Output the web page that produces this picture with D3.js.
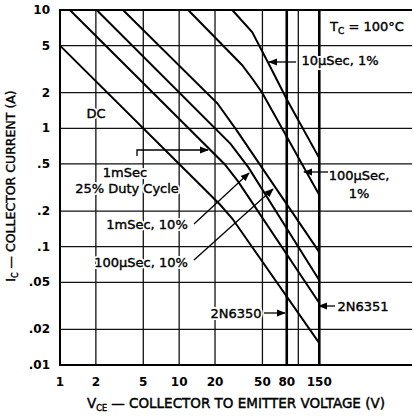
<!DOCTYPE html>
<html lang="en">
  <head>
    <meta charset="utf-8">
    <title>SOA chart</title>
    <script src="https://d3js.org/d3.v7.js"></script>
    <style>
      body { margin: 0; background: white; }
      text { font-family: "DejaVu Sans", sans-serif; fill: black; }
    </style>
  </head>
  <body>
    <script>

  // size
  var w = 414;
  var h = 417;
  var margin = {top: 10, right: 2, bottom: 52, left: 60};

  // tick values
  var vTicks = [1, 2, 5, 10, 20, 50, 80, 150];
  var iTicks = [10, 5, 2, 1, 0.5, 0.2, 0.1, 0.05, 0.02, 0.01];
  var iTickLabels = ["10", "5", "2", "1", ".5", ".2", ".1", ".05", ".02", ".01"];
  var vGrid = [2, 5, 10, 20, 50, 100];
  var vLimits = [80, 150];

  // curves (V, A)
  var dcV = [1, 22, 28, 150];
  var dcI = [5, 0.227, 0.172, 0.0153];
  var ms1d25V = [1.21, 24, 31, 150];
  var ms1d25I = [10, 0.5, 0.36, 0.0334];
  var ms1d10V = [2.03, 27, 38, 150];
  var ms1d10I = [10, 0.74, 0.47, 0.052];
  var us100d10V = [3.38, 21, 30, 150];
  var us100d10I = [10, 1.62, 0.98, 0.09];
  var us100d1V = [11.9, 33.7, 41.9, 49.9, 150];
  var us100d1I = [10, 3.43, 2.56, 1.99, 0.273];
  var us10d1V = [27.9, 41, 56, 80.8, 150];
  var us10d1I = [10, 6.52, 3.56, 1.73, 0.56];

  var curves = [
    d3.zip(dcV, dcI),
    d3.zip(ms1d25V, ms1d25I),
    d3.zip(ms1d10V, ms1d10I),
    d3.zip(us100d10V, us100d10I),
    d3.zip(us100d1V, us100d1I),
    d3.zip(us10d1V, us10d1I)
  ];

  // scales
  var xScale = d3.scaleLog()
    .domain([1, 900])
    .range([margin.left, w - margin.right]);

  var yScale = d3.scaleLog()
    .domain([0.01, 10])
    .range([h - margin.bottom, margin.top]);

  var svg = d3.select("body")
    .append("svg")
    .attr("width", w)
    .attr("height", h);

  // grid
  svg.append("g")
    .selectAll("line")
    .data(iTicks.slice(1, -1))
    .enter()
    .append("line")
    .attr("x1", xScale(1))
    .attr("x2", w - margin.right)
    .attr("y1", d => yScale(d))
    .attr("y2", d => yScale(d))
    .attr("stroke", "#111")
    .attr("stroke-width", 1.3);

  svg.append("g")
    .selectAll("line")
    .data(vGrid)
    .enter()
    .append("line")
    .attr("x1", d => xScale(d))
    .attr("x2", d => xScale(d))
    .attr("y1", yScale(10))
    .attr("y2", yScale(0.01))
    .attr("stroke", "#111")
    .attr("stroke-width", 1.3);

  // 2N6350 / 2N6351 voltage limits
  svg.append("g")
    .selectAll("line")
    .data(vLimits)
    .enter()
    .append("line")
    .attr("x1", d => xScale(d))
    .attr("x2", d => xScale(d))
    .attr("y1", yScale(10))
    .attr("y2", yScale(0.01))
    .attr("stroke", "black")
    .attr("stroke-width", 2.6);

  // frame: left, top, bottom
  svg.append("path")
    .attr("d", `M${w - margin.right},${yScale(10)}H${xScale(1)}V${yScale(0.01)}H${w - margin.right}`)
    .attr("fill", "none")
    .attr("stroke", "black")
    .attr("stroke-width", 2);

  // curves
  var line = d3.line()
    .x(d => xScale(d[0]))
    .y(d => yScale(d[1]));

  svg.append("g")
    .selectAll("path")
    .data(curves)
    .enter()
    .append("path")
    .attr("d", line)
    .attr("fill", "none")
    .attr("stroke", "black")
    .attr("stroke-width", 2);

  // axis labels
  var tickFont = 12;
  svg.append("g")
    .selectAll("text")
    .data(iTicks)
    .enter()
    .append("text")
    .attr("x", 50)
    .attr("y", d => yScale(d) + 4)
    .attr("text-anchor", "end")
    .style("font-size", tickFont + "px")
    .style("font-weight", "bold")
    .text((d, i) => iTickLabels[i]);

  svg.append("g")
    .selectAll("text")
    .data(vTicks)
    .enter()
    .append("text")
    .attr("x", d => xScale(d))
    .attr("y", 386)
    .attr("text-anchor", "middle")
    .style("font-size", tickFont + "px")
    .style("font-weight", "bold")
    .text(d => d);

  var xTitle = svg.append("text")
    .attr("x", 236)
    .attr("y", 408)
    .attr("text-anchor", "middle")
    .style("font-size", "13.5px")
    .style("stroke", "black")
    .style("stroke-width", 0.45);
  xTitle.append("tspan").text("V");
  xTitle.append("tspan").attr("dy", 3).style("font-size", "8px").text("CE");
  xTitle.append("tspan").attr("dy", -3).text(" \u2014 COLLECTOR TO EMITTER VOLTAGE (V)");

  var yTitle = svg.append("text")
    .attr("transform", "translate(15,186) rotate(-90)")
    .attr("text-anchor", "middle")
    .style("font-size", "12.5px")
    .style("stroke", "black")
    .style("stroke-width", 0.4);
  yTitle.append("tspan").text("I");
  yTitle.append("tspan").attr("dy", 3).style("font-size", "8px").text("C");
  yTitle.append("tspan").attr("dy", -3).text(" \u2014 COLLECTOR CURRENT (A)");

  // arrow head
  svg.append("defs")
    .append("marker")
    .attr("id", "head")
    .attr("viewBox", "0 0 10 10")
    .attr("refX", 9)
    .attr("refY", 5)
    .attr("markerWidth", 7)
    .attr("markerHeight", 7)
    .attr("orient", "auto")
    .append("path")
    .attr("d", "M0,1L10,5L0,9Z")
    .attr("fill", "black");

  // callouts
  var labels = [
    {t: "T", sub: "C", rest: " = 100\u00b0C", x: 367, y: 31},
    {t: "DC", x: 96, y: 118},
    {t: "1mSec", x: 125, y: 177},
    {t: "25% Duty Cycle", x: 127, y: 193},
    {t: "1mSec, 10%", x: 147, y: 229},
    {t: "100\u03bcSec, 10%", x: 141, y: 267},
    {t: "10\u03bcSec, 1%", x: 340, y: 65},
    {t: "100\u03bcSec,", x: 359, y: 180},
    {t: "1%", x: 359, y: 198},
    {t: "2N6350", x: 236, y: 318},
    {t: "2N6351", x: 363, y: 311}
  ];

  // white halo under each label, then the label itself
  ["halo", "ink"].forEach(function (layer) {
    var lab = svg.append("g")
      .selectAll("text")
      .data(labels)
      .enter()
      .append("text")
      .attr("x", d => d.x)
      .attr("y", d => d.y)
      .attr("text-anchor", "middle")
      .style("font-size", "13px")
      .style("fill", layer == "halo" ? "white" : "black")
      .style("stroke", layer == "halo" ? "white" : "black")
      .style("stroke-width", layer == "halo" ? 4 : 0.4)
      .style("stroke-linejoin", "round");

    lab.append("tspan").text(d => d.t);
    lab.filter(d => d.sub).append("tspan").attr("dy", 3).style("font-size", "9px").text(d => d.sub);
    lab.filter(d => d.rest).append("tspan").attr("dy", -3).text(d => d.rest);
  });

  var arrows = [
    [[137, 156], [137, 150], [208, 150]],
    [[194, 224], [249, 173]],
    [[194, 260], [273, 189]],
    [[296, 62], [269, 62]],
    [[328, 172], [304, 172]],
    [[264, 313], [285, 313]],
    [[335, 306], [319, 306]]
  ];

  svg.append("g")
    .selectAll("path")
    .data(arrows)
    .enter()
    .append("path")
    .attr("d", d => "M" + d.join("L"))
    .attr("fill", "none")
    .attr("stroke", "black")
    .attr("stroke-width", 1.3)
    .attr("marker-end", "url(#head)");

    </script>
  </body>
</html>
